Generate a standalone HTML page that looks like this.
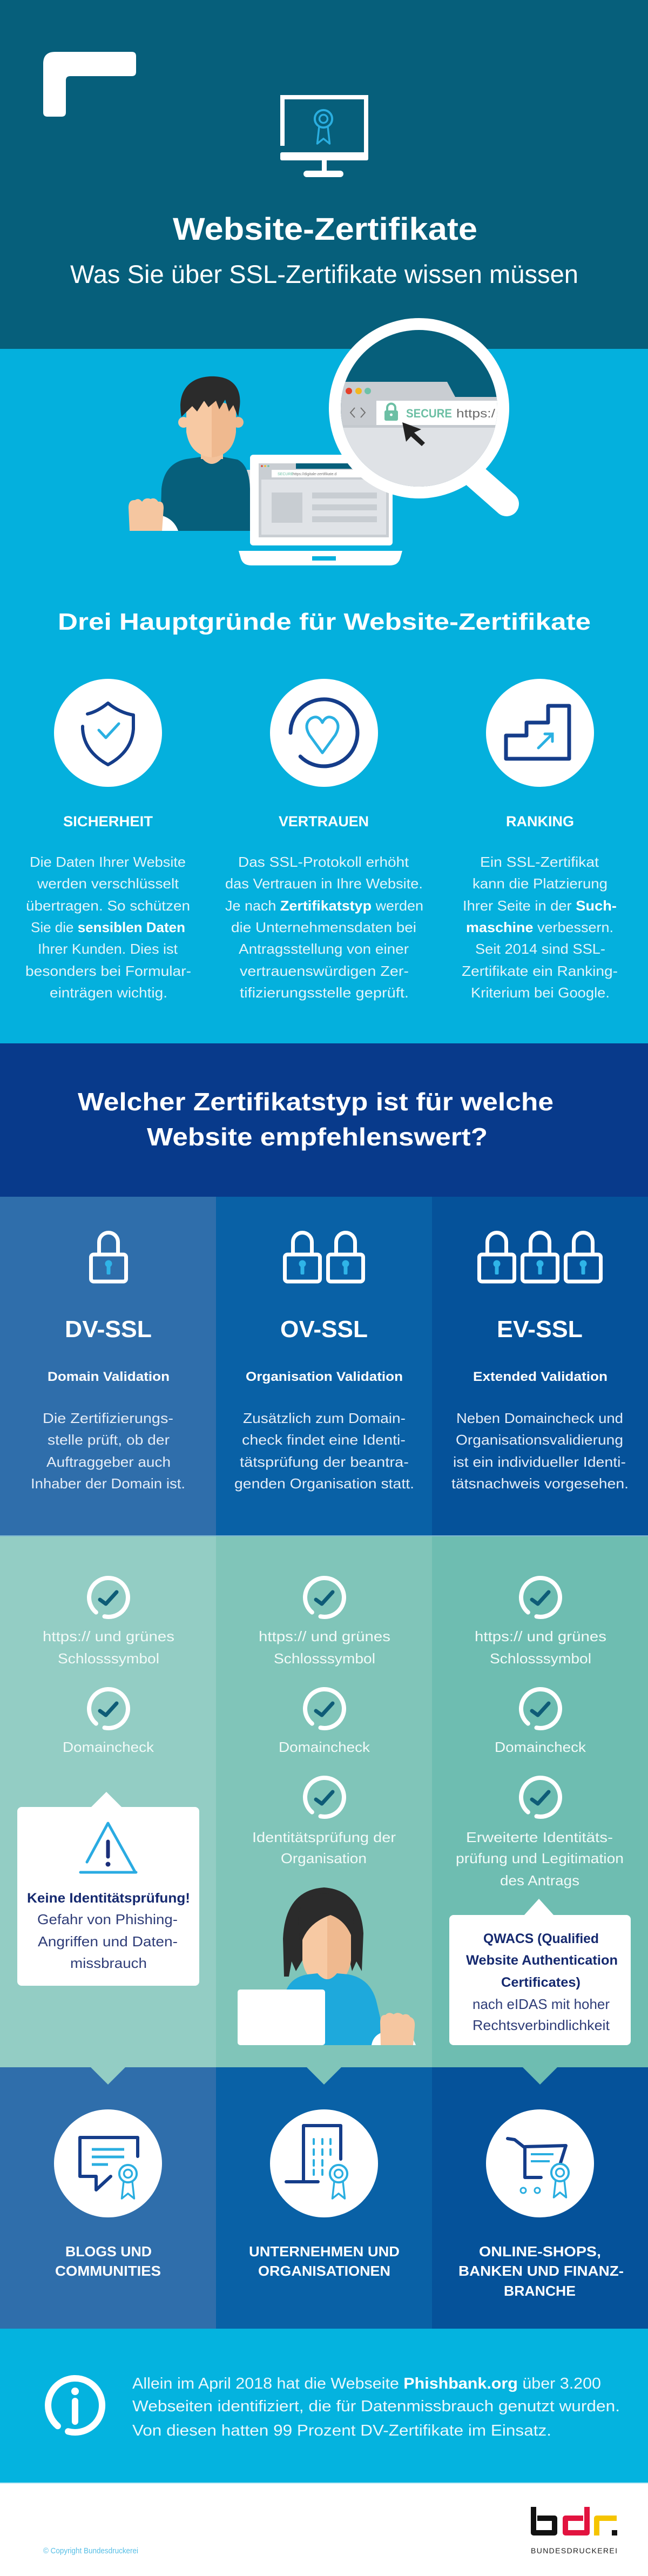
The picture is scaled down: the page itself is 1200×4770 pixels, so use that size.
<!DOCTYPE html>
<html><head><meta charset="utf-8">
<style>
html,body{margin:0;padding:0;background:#fff}
svg{display:block}
text{font-family:"Liberation Sans",sans-serif}
</style></head>
<body>
<svg width="1200" height="4770" viewBox="0 0 1200 4770" xmlns="http://www.w3.org/2000/svg">
<defs>
  <g id="chk">
    <path d="M-23.1,27.6 A36,36 0 1 1 -7.5,35.2" fill="none" stroke="#fff" stroke-width="8" stroke-linecap="round"/>
    <path d="M-16,4 L-5,12 L15,-10" fill="none" stroke="#0e5c77" stroke-width="7" stroke-linecap="round" stroke-linejoin="round"/>
  </g>
  <g id="lock">
    <rect x="-32.5" y="-25" width="65" height="50" rx="5" fill="none" stroke="#fff" stroke-width="7"/>
    <path d="M-17.5,-25 L-17.5,-48 A17.5,17.5 0 0 1 17.5,-48 L17.5,-25" fill="none" stroke="#fff" stroke-width="7"/>
    <circle cx="0" cy="-8" r="6.5" fill="#2fb4e8"/>
    <rect x="-3.5" y="-8" width="7" height="20" rx="2" fill="#2fb4e8"/>
  </g>
  <g id="ros">
    <circle r="14" fill="none" stroke="#2aaee0" stroke-width="3.5"/>
    <circle r="6.5" fill="none" stroke="#2aaee0" stroke-width="3"/>
    <path d="M-7,13 L-10,40 L0,32 L10,40 L7,13" fill="none" stroke="#2aaee0" stroke-width="3" stroke-linejoin="round"/>
  </g>
  <clipPath id="mag"><circle cx="776" cy="756" r="145"/></clipPath>
</defs>

<!-- ========== HEADER ========== -->
<rect x="0" y="0" width="1200" height="646" fill="#065f7b"/>
<path d="M80,208 L80,118 Q80,96 102,96 L244,96 Q252,96 252,104 L252,133 Q252,141 244,141 L130,141 Q122,141 122,149 L122,208 Q122,216 114,216 L88,216 Q80,216 80,208 Z" fill="#fff"/>
<!-- monitor -->
<path d="M523,270 L523,180 L678,180 L678,290" fill="none" stroke="#fff" stroke-width="8"/>
<rect x="519" y="282" width="163" height="15" rx="3" fill="#fff"/>
<rect x="596" y="296" width="9" height="22" fill="#fff"/>
<rect x="562" y="316" width="74" height="12" rx="6" fill="#fff"/>
<use href="#ros" transform="translate(599,220) scale(1.15)"/>
<text x="320" y="444" font-size="58" font-weight="bold" fill="#fff" textLength="564" lengthAdjust="spacingAndGlyphs">Website-Zertifikate</text>
<text x="130" y="524" font-size="47" fill="#fff" textLength="941" lengthAdjust="spacingAndGlyphs">Was Sie über SSL-Zertifikate wissen müssen</text>

<!-- ========== HERO ========== -->
<rect x="0" y="646" width="1200" height="1286" fill="#04b0dd"/>

<!-- man -->
<rect x="423" y="870" width="40" height="113" fill="#d6dade"/>
<rect x="363" y="972" width="100" height="11" fill="#d6dade"/>
<path d="M297,983 L299,905 Q304,858 345,850 L372,846 Q392,872 413,846 L440,851 Q462,862 463,905 L463,983 Z" fill="#065f7b"/>
<rect x="372" y="815" width="41" height="35" fill="#f3c29b"/>
<path d="M372,846 Q392,872 413,846 Z" fill="#f3c29b"/>
<circle cx="340" cy="782" r="10" fill="#f7c9a3"/>
<circle cx="441" cy="782" r="10" fill="#efb98f"/>
<path d="M345,750 L392,740 L392,847 Q352,843 345,800 Z" fill="#f7c9a3"/>
<path d="M392,740 L437,752 L437,800 Q432,843 392,847 Z" fill="#efb98f"/>
<path d="M336,772 C328,730 345,700 388,697 C430,695 448,718 444,752 L441,772 L432,750 L424,762 L417,740 L406,758 L400,742 L386,754 L378,742 L365,762 L356,752 Z" fill="#2b2b2b"/>
<path d="M250,983 Q255,958 285,952 Q320,955 330,983 Z" fill="#fff"/>
<path d="M240,983 L238,940 Q238,925 250,926 Q257,921 263,929 Q269,920 279,924 Q287,920 293,929 Q303,927 303,941 L300,983 Z" fill="#f5c6a0"/>

<!-- laptop -->
<rect x="463" y="842" width="264" height="168" rx="6" fill="#fff"/>
<rect x="479" y="858" width="241" height="137" fill="#c9ced3"/>
<rect x="548" y="858" width="172" height="10" fill="#065f7b"/>
<circle cx="485" cy="863" r="1.8" fill="#e5402a"/><circle cx="491" cy="863" r="1.8" fill="#f2b71f"/><circle cx="497" cy="863" r="1.8" fill="#6dc1a9"/>
<rect x="503" y="870" width="217" height="14" fill="#fff"/>
<text x="514" y="880" font-size="7" fill="#6cbfa4">SECURE</text>
<text x="542" y="880" font-size="7" fill="#777">https://digitale-zertifikate.d</text>
<rect x="484" y="888" width="231" height="102" fill="#e0e3e7"/>
<rect x="503" y="912" width="57" height="56" fill="#c8cdd2"/>
<rect x="578" y="912" width="120" height="11" fill="#c8cdd2"/>
<rect x="578" y="934" width="120" height="11" fill="#c8cdd2"/>
<rect x="578" y="956" width="120" height="11" fill="#c8cdd2"/>
<path d="M442,1020 L745,1020 L741,1034 Q737,1047 722,1047 L465,1047 Q450,1047 446,1034 Z" fill="#fff"/>
<rect x="578" y="1030" width="44" height="8" fill="#04b0dd"/>

<!-- magnifier -->
<line x1="880" y1="882" x2="938" y2="933" stroke="#fff" stroke-width="46" stroke-linecap="round"/>
<circle cx="776" cy="756" r="167" fill="#fff"/>
<g clip-path="url(#mag)">
  <rect x="600" y="600" width="360" height="320" fill="#065f7b"/>
  <path d="M600,707 L828,707 L843,735 L960,735 L960,920 L600,920 Z" fill="#c9cdd2"/>
  <rect x="600" y="787" width="360" height="140" fill="#dfe2e6"/>
  <rect x="600" y="787" width="360" height="5" fill="#c4c9ce"/>
  <rect x="697" y="742" width="270" height="45" fill="#fff"/>
  <circle cx="646" cy="724" r="6" fill="#e5402a"/>
  <circle cx="664" cy="724" r="6" fill="#f2b71f"/>
  <circle cx="681" cy="724" r="6" fill="#6dc1a9"/>
  <polyline points="657,755 649,764 657,773" fill="none" stroke="#707070" stroke-width="2"/>
  <polyline points="668,755 676,764 668,773" fill="none" stroke="#707070" stroke-width="2"/>
  <rect x="712" y="760" width="25" height="19" rx="3" fill="#6cbfa4"/>
  <path d="M717,761 L717,755 A7.5,7.5 0 0 1 732,755 L732,761" fill="none" stroke="#6cbfa4" stroke-width="4"/>
  <circle cx="724.5" cy="768" r="2.5" fill="#fff"/>
  <text x="752" y="773" font-size="22" font-weight="bold" fill="#6cbfa4" textLength="85" lengthAdjust="spacingAndGlyphs">SECURE</text>
  <text x="845" y="773" font-size="22" fill="#6b6b6b" textLength="72" lengthAdjust="spacingAndGlyphs">https:/</text>
  <path d="M745,782 L752,818 L761,808 L781,826 L787,820 L767,801 L780,795 Z" fill="#222"/>
</g>

<text x="107" y="1166" font-size="44" font-weight="bold" fill="#fff" textLength="987" lengthAdjust="spacingAndGlyphs">Drei Hauptgründe für Website-Zertifikate</text>

<!-- three reasons -->
<circle cx="200" cy="1357" r="100" fill="#fff"/>
<circle cx="600" cy="1357" r="100" fill="#fff"/>
<circle cx="1000" cy="1357" r="100" fill="#fff"/>
<!-- shield -->
<path d="M153,1345 L153,1350 Q156,1392 200,1416 Q244,1392 247,1350 L247,1324 Q222,1320 200,1302 Q180,1318 162,1322" fill="none" stroke="#153d8a" stroke-width="6" stroke-linecap="round" stroke-linejoin="round"/>
<path d="M183,1352 L196,1366 L220,1340" fill="none" stroke="#2ab0e2" stroke-width="5" stroke-linecap="round" stroke-linejoin="round"/>
<!-- heart ring -->
<path d="M538,1357 A62,62 0 1 1 556.2,1400.8" fill="none" stroke="#153d8a" stroke-width="7" stroke-linecap="round"/>
<path d="M597,1394 L573,1361 Q562,1342 575,1331 Q589,1322 597,1338 Q605,1322 619,1331 Q632,1342 621,1361 Z" fill="none" stroke="#2ab0e2" stroke-width="5" stroke-linejoin="round"/>
<!-- stairs -->
<path d="M1015,1307 L1054,1307 L1054,1405 L937,1405 L937,1362 L975,1362 L975,1338 L1015,1338 Z" fill="none" stroke="#153d8a" stroke-width="7" stroke-linejoin="round"/>
<path d="M997,1385 L1022,1360 M1009,1359 L1023,1359 L1023,1373" fill="none" stroke="#2ab0e2" stroke-width="5" stroke-linecap="round"/>

<g font-weight="bold" font-size="27" fill="#fff">
<text x="117" y="1530" textLength="166" lengthAdjust="spacingAndGlyphs">SICHERHEIT</text>
<text x="516" y="1530" textLength="167" lengthAdjust="spacingAndGlyphs">VERTRAUEN</text>
<text x="937" y="1530" textLength="126" lengthAdjust="spacingAndGlyphs">RANKING</text>
</g>
<g font-size="26" fill="#e3f4fb">
<text x="55" y="1605" textLength="289" lengthAdjust="spacingAndGlyphs">Die Daten Ihrer Website</text>
<text x="69" y="1645" textLength="262" lengthAdjust="spacingAndGlyphs">werden verschlüsselt</text>
<text x="48" y="1686" textLength="304" lengthAdjust="spacingAndGlyphs">übertragen. So schützen</text>
<text x="57" y="1726" textLength="286" lengthAdjust="spacingAndGlyphs">Sie die <tspan font-weight="bold" fill="#fff">sensiblen Daten</tspan></text>
<text x="70" y="1766" textLength="259" lengthAdjust="spacingAndGlyphs">Ihrer Kunden. Dies ist</text>
<text x="47" y="1807" textLength="307" lengthAdjust="spacingAndGlyphs">besonders bei Formular-</text>
<text x="92" y="1847" textLength="218" lengthAdjust="spacingAndGlyphs">einträgen wichtig.</text>

<text x="441" y="1605" textLength="316" lengthAdjust="spacingAndGlyphs">Das SSL-Protokoll erhöht</text>
<text x="417" y="1645" textLength="366" lengthAdjust="spacingAndGlyphs">das Vertrauen in Ihre Website.</text>
<text x="417" y="1686" textLength="367" lengthAdjust="spacingAndGlyphs">Je nach <tspan font-weight="bold" fill="#fff">Zertifikatstyp</tspan> werden</text>
<text x="428" y="1726" textLength="343" lengthAdjust="spacingAndGlyphs">die Unternehmensdaten bei</text>
<text x="442" y="1766" textLength="315" lengthAdjust="spacingAndGlyphs">Antragsstellung von einer</text>
<text x="444" y="1807" textLength="313" lengthAdjust="spacingAndGlyphs">vertrauenswürdigen Zer-</text>
<text x="444" y="1847" textLength="313" lengthAdjust="spacingAndGlyphs">tifizierungsstelle geprüft.</text>

<text x="889" y="1605" textLength="220" lengthAdjust="spacingAndGlyphs">Ein SSL-Zertifikat</text>
<text x="875" y="1645" textLength="250" lengthAdjust="spacingAndGlyphs">kann die Platzierung</text>
<text x="857" y="1686" textLength="285" lengthAdjust="spacingAndGlyphs">Ihrer Seite in der <tspan font-weight="bold" fill="#fff">Such-</tspan></text>
<text x="863" y="1726" textLength="273" lengthAdjust="spacingAndGlyphs"><tspan font-weight="bold" fill="#fff">maschine</tspan> verbessern.</text>
<text x="880" y="1766" textLength="241" lengthAdjust="spacingAndGlyphs">Seit 2014 sind SSL-</text>
<text x="855" y="1807" textLength="289" lengthAdjust="spacingAndGlyphs">Zertifikate ein Ranking-</text>
<text x="872" y="1847" textLength="257" lengthAdjust="spacingAndGlyphs">Kriterium bei Google.</text>
</g>

<!-- ========== NAVY HEADING ========== -->
<rect x="0" y="1932" width="1200" height="284" fill="#083a8b"/>
<text x="144" y="2056" font-size="46" font-weight="bold" fill="#fff" textLength="881" lengthAdjust="spacingAndGlyphs">Welcher Zertifikatstyp ist für welche</text>
<text x="272" y="2121" font-size="46" font-weight="bold" fill="#fff" textLength="631" lengthAdjust="spacingAndGlyphs">Website empfehlenswert?</text>

<!-- ========== BLUE COLUMNS ========== -->
<rect x="0" y="2216" width="400" height="628" fill="#2f6eab"/>
<rect x="400" y="2216" width="400" height="628" fill="#0961a6"/>
<rect x="800" y="2216" width="400" height="628" fill="#05529a"/>
<use href="#lock" transform="translate(201,2348)"/>
<use href="#lock" transform="translate(560,2348)"/>
<use href="#lock" transform="translate(640,2348)"/>
<use href="#lock" transform="translate(920,2348)"/>
<use href="#lock" transform="translate(1000,2348)"/>
<use href="#lock" transform="translate(1080,2348)"/>
<g font-weight="bold" fill="#fff">
<text x="120" y="2476" font-size="44" textLength="161" lengthAdjust="spacingAndGlyphs">DV-SSL</text>
<text x="519" y="2476" font-size="44" textLength="162" lengthAdjust="spacingAndGlyphs">OV-SSL</text>
<text x="920" y="2476" font-size="44" textLength="159" lengthAdjust="spacingAndGlyphs">EV-SSL</text>
<text x="88" y="2557" font-size="24" textLength="226" lengthAdjust="spacingAndGlyphs">Domain Validation</text>
<text x="455" y="2557" font-size="24" textLength="291" lengthAdjust="spacingAndGlyphs">Organisation Validation</text>
<text x="876" y="2557" font-size="24" textLength="249" lengthAdjust="spacingAndGlyphs">Extended Validation</text>
</g>
<g font-size="26" fill="#e4ecf7">
<text x="79" y="2635" textLength="242" lengthAdjust="spacingAndGlyphs">Die Zertifizierungs-</text>
<text x="88" y="2675" textLength="226" lengthAdjust="spacingAndGlyphs">stelle prüft, ob der</text>
<text x="86" y="2716" textLength="230" lengthAdjust="spacingAndGlyphs">Auftraggeber auch</text>
<text x="57" y="2756" textLength="286" lengthAdjust="spacingAndGlyphs">Inhaber der Domain ist.</text>
<text x="450" y="2635" textLength="301" lengthAdjust="spacingAndGlyphs">Zusätzlich zum Domain-</text>
<text x="448" y="2675" textLength="303" lengthAdjust="spacingAndGlyphs">check findet eine Identi-</text>
<text x="444" y="2716" textLength="313" lengthAdjust="spacingAndGlyphs">tätsprüfung der beantra-</text>
<text x="434" y="2756" textLength="333" lengthAdjust="spacingAndGlyphs">genden Organisation statt.</text>
<text x="845" y="2635" textLength="309" lengthAdjust="spacingAndGlyphs">Neben Domaincheck und</text>
<text x="844" y="2675" textLength="310" lengthAdjust="spacingAndGlyphs">Organisationsvalidierung</text>
<text x="839" y="2716" textLength="320" lengthAdjust="spacingAndGlyphs">ist ein individueller Identi-</text>
<text x="836" y="2756" textLength="328" lengthAdjust="spacingAndGlyphs">tätsnachweis vorgesehen.</text>
</g>

<!-- ========== TEAL COLUMNS ========== -->
<rect x="0" y="2844" width="400" height="984" fill="#93cdc4"/>
<rect x="400" y="2844" width="400" height="984" fill="#80c5b9"/>
<rect x="800" y="2844" width="400" height="984" fill="#6ebdb1"/>
<rect x="0" y="2843" width="1200" height="2" fill="#7fb7d0"/>

<use href="#chk" transform="translate(201,2958)"/>
<use href="#chk" transform="translate(601,2958)"/>
<use href="#chk" transform="translate(1001,2958)"/>
<use href="#chk" transform="translate(201,3164)"/>
<use href="#chk" transform="translate(601,3164)"/>
<use href="#chk" transform="translate(1001,3164)"/>
<use href="#chk" transform="translate(601,3328)"/>
<use href="#chk" transform="translate(1001,3328)"/>

<g font-size="26" fill="#f2faf8">
<text x="79" y="3039" textLength="244" lengthAdjust="spacingAndGlyphs">https:// und grünes</text>
<text x="107" y="3080" textLength="188" lengthAdjust="spacingAndGlyphs">Schlosssymbol</text>
<text x="116" y="3244" textLength="169" lengthAdjust="spacingAndGlyphs">Domaincheck</text>
<text x="479" y="3039" textLength="244" lengthAdjust="spacingAndGlyphs">https:// und grünes</text>
<text x="507" y="3080" textLength="188" lengthAdjust="spacingAndGlyphs">Schlosssymbol</text>
<text x="516" y="3244" textLength="169" lengthAdjust="spacingAndGlyphs">Domaincheck</text>
<text x="879" y="3039" textLength="244" lengthAdjust="spacingAndGlyphs">https:// und grünes</text>
<text x="907" y="3080" textLength="188" lengthAdjust="spacingAndGlyphs">Schlosssymbol</text>
<text x="916" y="3244" textLength="169" lengthAdjust="spacingAndGlyphs">Domaincheck</text>
<text x="467" y="3411" textLength="266" lengthAdjust="spacingAndGlyphs">Identitätsprüfung der</text>
<text x="520" y="3450" textLength="159" lengthAdjust="spacingAndGlyphs">Organisation</text>
<text x="863" y="3411" textLength="272" lengthAdjust="spacingAndGlyphs">Erweiterte Identitäts-</text>
<text x="844" y="3450" textLength="311" lengthAdjust="spacingAndGlyphs">prüfung und Legitimation</text>
<text x="926" y="3491" textLength="147" lengthAdjust="spacingAndGlyphs">des Antrags</text>
</g>

<!-- callout DV -->
<path d="M168,3347 L197,3318 L226,3347 Z" fill="#fff"/>
<rect x="32" y="3346" width="337" height="331" rx="8" fill="#fff"/>
<path d="M161,3448 L200,3376 L250,3466 M149,3467 L252,3467" fill="none" stroke="#2aabe2" stroke-width="5" stroke-linecap="round" stroke-linejoin="round"/>
<line x1="200" y1="3410" x2="200" y2="3438" stroke="#1b2f7a" stroke-width="7" stroke-linecap="round"/>
<circle cx="200" cy="3452" r="4.5" fill="#1b2f7a"/>
<text x="50" y="3523" font-size="25" font-weight="bold" fill="#15296f" textLength="302" lengthAdjust="spacingAndGlyphs">Keine Identitätsprüfung!</text>
<g font-size="26" fill="#2f3d78">
<text x="69" y="3563" textLength="260" lengthAdjust="spacingAndGlyphs">Gefahr von Phishing-</text>
<text x="70" y="3604" textLength="259" lengthAdjust="spacingAndGlyphs">Angriffen und Daten-</text>
<text x="130" y="3644" textLength="142" lengthAdjust="spacingAndGlyphs">missbrauch</text>
</g>

<!-- woman -->
<path d="M526,3660 L524,3590 Q528,3500 600,3495 Q668,3500 673,3580 L670,3650 L660,3632 L652,3650 L645,3620 L640,3560 L562,3560 L560,3630 L548,3650 L540,3632 L535,3660 Z" fill="#2b2b2b"/>
<rect x="588" y="3655" width="36" height="25" fill="#f3c29b"/>
<path d="M560,3545 L606,3545 L606,3675 Q566,3672 560,3630 Z" fill="#f7c9a3"/>
<path d="M606,3545 L650,3545 L650,3630 Q645,3672 606,3675 Z" fill="#efb98f"/>
<path d="M556,3605 Q566,3562 612,3546 Q640,3556 652,3588 L656,3540 Q642,3508 600,3506 Q556,3510 552,3552 Z" fill="#2b2b2b"/>
<path d="M520,3787 L526,3700 Q532,3662 570,3656 L588,3654 Q606,3676 624,3654 L645,3656 Q688,3664 698,3710 L716,3787 Z" fill="#1ea9dc"/>
<rect x="440" y="3684" width="162" height="103" rx="5" fill="#fff"/>
<path d="M688,3787 Q692,3762 725,3760 Q762,3762 770,3787 Z" fill="#fff"/>
<path d="M705,3787 L704,3745 Q704,3730 714,3731 Q720,3724 729,3730 Q737,3724 746,3731 Q755,3727 760,3735 Q769,3738 768,3752 L765,3787 Z" fill="#f5c6a0"/>

<!-- callout EV -->
<path d="M970,3547 L998,3516 L1026,3547 Z" fill="#fff"/>
<rect x="832" y="3546" width="336" height="241" rx="8" fill="#fff"/>
<g font-size="25" font-weight="bold" fill="#15296f">
<text x="895" y="3598" textLength="214" lengthAdjust="spacingAndGlyphs">QWACS (Qualified</text>
<text x="863" y="3638" textLength="281" lengthAdjust="spacingAndGlyphs">Website Authentication</text>
<text x="928" y="3679" textLength="147" lengthAdjust="spacingAndGlyphs">Certificates)</text>
</g>
<g font-size="26" fill="#2f3d78">
<text x="875" y="3720" textLength="254" lengthAdjust="spacingAndGlyphs">nach eIDAS mit hoher</text>
<text x="875" y="3759" textLength="254" lengthAdjust="spacingAndGlyphs">Rechtsverbindlichkeit</text>
</g>

<!-- ========== USE CASES ========== -->
<rect x="0" y="3828" width="400" height="484" fill="#2f6eab"/>
<rect x="400" y="3828" width="400" height="484" fill="#0961a6"/>
<rect x="800" y="3828" width="400" height="484" fill="#05529a"/>
<path d="M167,3827 L233,3827 L200,3860 Z" fill="#93cdc4"/>
<path d="M567,3827 L633,3827 L600,3860 Z" fill="#80c5b9"/>
<path d="M967,3827 L1033,3827 L1000,3860 Z" fill="#6ebdb1"/>

<circle cx="200" cy="4006" r="100" fill="#fff"/>
<circle cx="600" cy="4006" r="100" fill="#fff"/>
<circle cx="1000" cy="4006" r="100" fill="#fff"/>
<!-- chat -->
<path d="M255,3993 L255,3958 L148,3958 L148,4030 L178,4030 L178,4055 L205,4030" fill="none" stroke="#153d8a" stroke-width="6" stroke-linejoin="round" stroke-linecap="round"/>
<path d="M170,3980 L230,3980 M170,3994 L230,3994 M170,4008 L200,4008" stroke="#2aaee0" stroke-width="5"/>
<use href="#ros" transform="translate(237,4025) scale(1.15)"/>
<!-- building -->
<path d="M562,4040 L562,3936 L631,3936 L631,3998 M530,4040 L589,4040" fill="none" stroke="#153d8a" stroke-width="6" stroke-linecap="round" stroke-linejoin="round"/>
<g stroke="#2aaee0" stroke-width="4" stroke-linecap="round">
<path d="M581,3961 L581,3970 M597,3961 L597,3970 M612,3961 L612,3970"/>
<path d="M581,3980 L581,3990 M597,3980 L597,3990 M612,3980 L612,3990"/>
<path d="M581,4000 L581,4010 M597,4000 L597,4010"/>
<path d="M581,4018 L581,4027 M597,4018 L597,4027"/>
</g>
<use href="#ros" transform="translate(627,4025) scale(1.15)"/>
<!-- cart -->
<path d="M940,3960 L953,3962 L972,3977 L972,4032 L1002,4032 M972,3975 L1048,3973 L1038,4005" fill="none" stroke="#153d8a" stroke-width="6" stroke-linecap="round" stroke-linejoin="round"/>
<path d="M983,3989 L1025,3989 M983,4002 L1018,4002" stroke="#2aaee0" stroke-width="4"/>
<circle cx="969" cy="4056" r="5" fill="none" stroke="#2aaee0" stroke-width="3"/>
<circle cx="995" cy="4056" r="5" fill="none" stroke="#2aaee0" stroke-width="3"/>
<use href="#ros" transform="translate(1037,4023) scale(1.15)"/>

<g font-size="26" font-weight="bold" fill="#fff">
<text x="121" y="4178" textLength="160" lengthAdjust="spacingAndGlyphs">BLOGS UND</text>
<text x="102" y="4214" textLength="196" lengthAdjust="spacingAndGlyphs">COMMUNITIES</text>
<text x="461" y="4178" textLength="279" lengthAdjust="spacingAndGlyphs">UNTERNEHMEN UND</text>
<text x="478" y="4214" textLength="245" lengthAdjust="spacingAndGlyphs">ORGANISATIONEN</text>
<text x="887" y="4178" textLength="226" lengthAdjust="spacingAndGlyphs">ONLINE-SHOPS,</text>
<text x="849" y="4214" textLength="306" lengthAdjust="spacingAndGlyphs">BANKEN UND FINANZ-</text>
<text x="933" y="4251" textLength="133" lengthAdjust="spacingAndGlyphs">BRANCHE</text>
</g>

<!-- ========== INFO ========== -->
<rect x="0" y="4312" width="1200" height="285" fill="#04b3df"/>
<path d="M106.9,4492.3 A50,50 0 1 1 126.1,4502.3" fill="none" stroke="#fff" stroke-width="12" stroke-linecap="round"/>
<circle cx="139" cy="4428" r="7" fill="#fff"/>
<line x1="139" y1="4446" x2="139" y2="4484" stroke="#fff" stroke-width="12" stroke-linecap="round"/>
<g font-size="29" fill="#eaf8fd">
<text x="245" y="4423" textLength="868" lengthAdjust="spacingAndGlyphs">Allein im April 2018 hat die Webseite <tspan font-weight="bold" fill="#fff">Phishbank.org</tspan> über 3.200</text>
<text x="245" y="4465" textLength="903" lengthAdjust="spacingAndGlyphs">Webseiten identifiziert, die für Datenmissbrauch genutzt wurden.</text>
<text x="245" y="4510" textLength="776" lengthAdjust="spacingAndGlyphs">Von diesen hatten 99 Prozent DV-Zertifikate im Einsatz.</text>
</g>

<!-- ========== FOOTER ========== -->
<rect x="0" y="4597" width="1200" height="173" fill="#fff"/>
<rect x="0" y="4597" width="1200" height="2" fill="#bfe9f6"/>
<text x="80" y="4728" font-size="15" fill="#58bfe6" textLength="176" lengthAdjust="spacingAndGlyphs">© Copyright Bundesdruckerei</text>
<!-- bdr logo -->
<path d="M988,4642 L988,4690 L1027,4690 L1027,4663 L995,4663" fill="none" stroke="#111" stroke-width="10" stroke-linejoin="round"/>
<path d="M1087,4642 L1087,4690 L1047,4690 L1047,4663 L1080,4663" fill="none" stroke="#e2133f" stroke-width="10" stroke-linejoin="round"/>
<path d="M1105,4695 L1105,4663 L1142,4663" fill="none" stroke="#f5c400" stroke-width="10" stroke-linejoin="round"/>
<rect x="1133" y="4685" width="10" height="10" fill="#111"/>
<text x="983" y="4728" font-size="14" fill="#222" textLength="160" lengthAdjust="spacing">BUNDESDRUCKEREI</text>
</svg>
</body></html>
